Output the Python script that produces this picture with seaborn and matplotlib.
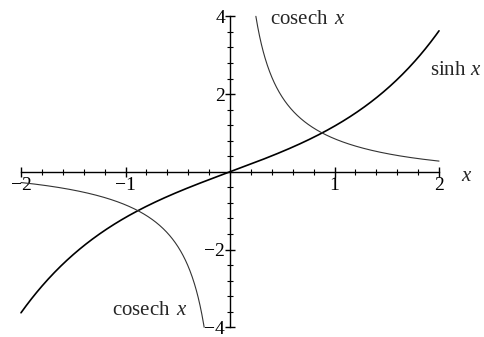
import numpy as np
import pandas as pd
import matplotlib
matplotlib.use("Agg")
import matplotlib.pyplot as plt
import seaborn as sns

# tick values shown on the axes
x_ticks = [-2, -1, 1, 2]
y_ticks = [-4, -2, 2, 4]
x_range = (-2, 2)
y_range = (-4, 4)

# curves sampled from the functions
x_sinh = np.linspace(-2, 2, 400)
x_csch_pos = np.linspace(np.arcsinh(0.25), 2, 400)
x_csch_neg = -x_csch_pos[::-1]

sinh_df = pd.DataFrame({"x": x_sinh, "y": np.sinh(x_sinh)})
csch_pos_df = pd.DataFrame({"x": x_csch_pos, "y": 1 / np.sinh(x_csch_pos)})
csch_neg_df = pd.DataFrame({"x": x_csch_neg, "y": 1 / np.sinh(x_csch_neg)})

sns.set_theme(style="white")
plt.rcParams["font.family"] = ["Liberation Serif", "DejaVu Serif"]
plt.rcParams["mathtext.fontset"] = "custom"
plt.rcParams["mathtext.rm"] = "Liberation Serif"
plt.rcParams["mathtext.it"] = "Liberation Serif:italic"
plt.rcParams["axes.unicode_minus"] = True

fig = plt.figure(figsize=(4.85, 3.37), dpi=100)
ax = fig.add_axes([0, 0, 1, 1])

sns.lineplot(data=sinh_df, x="x", y="y", ax=ax, color="black", lw=1.2, sort=False)
sns.lineplot(data=csch_pos_df, x="x", y="y", ax=ax, color="#333333", lw=0.8, sort=False)
sns.lineplot(data=csch_neg_df, x="x", y="y", ax=ax, color="#333333", lw=0.8, sort=False)

ax.set_xlim(-2.201, 2.440)
ax.set_ylim(-4.25, 4.42)

for s in ["top", "right"]:
    ax.spines[s].set_visible(False)
ax.spines["left"].set_position(("data", 0))
ax.spines["bottom"].set_position(("data", 0))
ax.spines["left"].set_bounds(*y_range)
ax.spines["bottom"].set_bounds(*x_range)
for s in ["left", "bottom"]:
    ax.spines[s].set_color("black")
    ax.spines[s].set_linewidth(1.0)

ax.set_xticks(x_ticks)
ax.set_xticklabels(["\u2212" + str(-t) if t < 0 else str(t) for t in x_ticks])
ax.set_yticks(y_ticks)
ax.set_yticklabels(["\u2212" + str(-t) if t < 0 else str(t) for t in y_ticks])
ax.set_xticks(np.arange(-2, 2.01, 0.2), minor=True)
ax.set_yticks(np.arange(-4, 4.01, 0.4), minor=True)

ax.tick_params(axis="both", which="both", bottom=True, left=True)
ax.tick_params(axis="both", which="major", direction="inout", length=7,
               width=1.0, colors="black", labelsize=14, pad=0)
ax.tick_params(axis="both", which="minor", direction="inout", length=4,
               width=0.8, colors="black")
ax.set_xlabel("")
ax.set_ylabel("")
ax.grid(False)

ax.text(2.26, -0.13, "$x$", fontsize=15, ha="center", va="center")
ax.text(0.74, 3.93, r"cosech $\,x$", fontsize=15, ha="center", va="center")
ax.text(2.16, 2.6, r"sinh $x$", fontsize=15, ha="center", va="center")
ax.text(-0.77, -3.57, r"cosech $\,x$", fontsize=15, ha="center", va="center")

fig.savefig("out.png", dpi=100)
